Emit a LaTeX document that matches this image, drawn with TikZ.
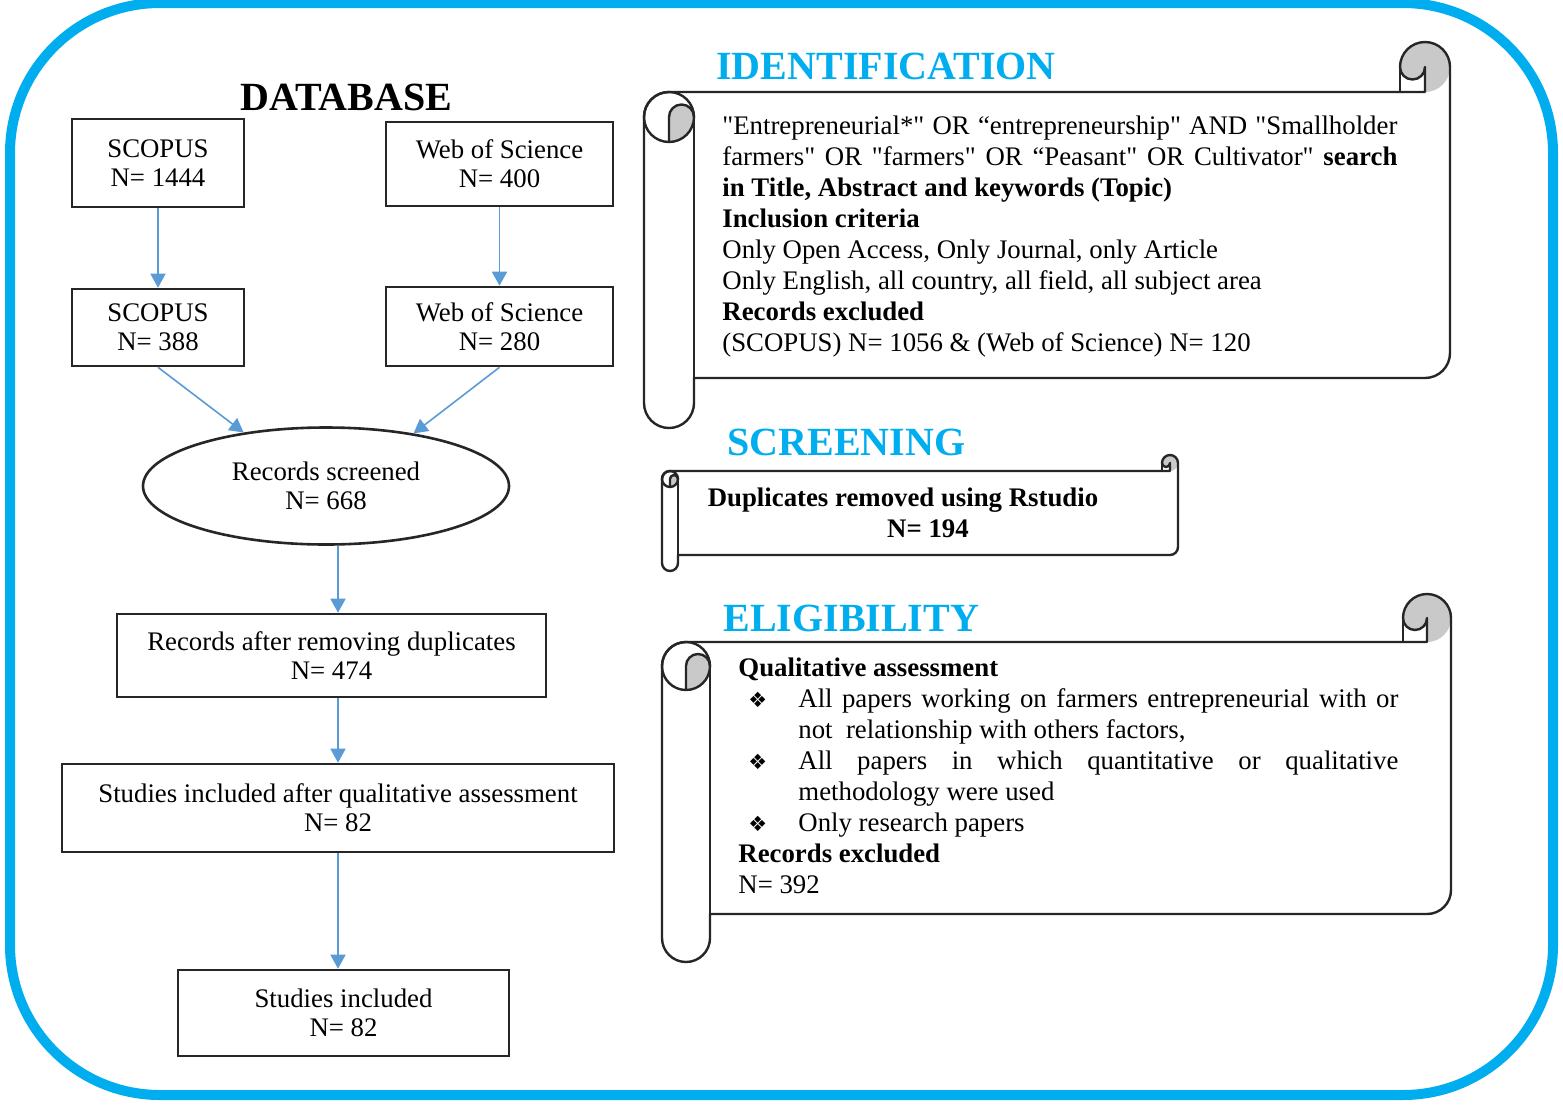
\documentclass[tikz,border=0pt]{standalone}
\usepackage{fontspec}
\setmainfont{Liberation Serif}[Ligatures=TeXOff]
\newfontfamily\symfont{DejaVu Sans}
\usetikzlibrary{arrows.meta,shapes.geometric,calc}
\definecolor{frameblue}{HTML}{00AEEF}
\definecolor{arrowblue}{HTML}{5B9BD5}
\definecolor{curlgray}{HTML}{C9C9C9}
\definecolor{boxline}{HTML}{262626}

\tikzset{
  scrollline/.style={draw=boxline, line width=1.2pt, line join=round},
  flowbox/.style={draw=boxline, line width=1.3pt, align=center, inner sep=0pt,
    font=\fontsize{13.4}{14.5}\selectfont},
  flowell/.style={flowbox, ellipse},
  arr/.style={draw=arrowblue, line width=0.8pt, -{Triangle[width=7.5pt,length=7pt]}},
  secttitle/.style={inner sep=0pt, font=\fontsize{20}{24}\selectfont\bfseries},
  bodytext/.style={inner sep=0pt, align=left, font=\fontsize{13.4}{15.5}\selectfont}
}

\newcommand\myscroll[5]{%
  \pgfmathsetmacro\sL{#1}%
  \pgfmathsetmacro\sT{#2}%
  \pgfmathsetmacro\sR{#3}%
  \pgfmathsetmacro\sB{#4}%
  \pgfmathsetmacro\sc{#5}%
  \pgfmathsetmacro\sh{\sc/2}%
  \pgfmathsetmacro\sq{\sc/4}%
  \pgfmathsetmacro\yA{\sT+\sh}%
  \pgfmathsetmacro\yB{\sT+\sc}%
  \pgfmathsetmacro\yC{\sT+1.5*\sc}%
  \pgfmathsetmacro\yD{\sT+2*\sc}%
  \pgfmathsetmacro\yE{\sB-\sc}%
  \pgfmathsetmacro\yF{\sB-\sh}%
  \pgfmathsetmacro\yG{\sB-1.5*\sc}%
  \pgfmathsetmacro\xA{\sL+\sh}%
  \pgfmathsetmacro\xB{\sL+\sc}%
  \pgfmathsetmacro\xC{\sR-\sh}%
  \pgfmathsetmacro\xD{\sR-\sc}%
  \fill[white] (\sL,\yC) arc[start angle=180,end angle=270,radius=\sh]
     -- (\xC,\yB) -- (\xC,\yA) arc[start angle=0,end angle=180,radius=\sq]
     arc[start angle=180,end angle=360,radius=\sh] -- (\sR,\yG)
     arc[start angle=0,end angle=90,radius=\sh] -- (\xB,\yE) -- (\xB,\yF)
     arc[start angle=0,end angle=180,radius=\sh] -- cycle;
  \fill[curlgray] (\xA,\yD) arc[start angle=90,end angle=0,radius=\sh]
     arc[start angle=0,end angle=-180,radius=\sq] -- cycle;
  \fill[curlgray] (\xC,\yB) arc[start angle=90,end angle=-180,radius=\sh]
     arc[start angle=180,end angle=0,radius=\sq] -- cycle;
  \draw[scrollline] (\sL,\yC) arc[start angle=180,end angle=270,radius=\sh]
     -- (\xC,\yB) -- (\xC,\yA) arc[start angle=0,end angle=180,radius=\sq]
     arc[start angle=180,end angle=360,radius=\sh] -- (\sR,\yG)
     arc[start angle=0,end angle=90,radius=\sh] -- (\xB,\yE) -- (\xB,\yF)
     arc[start angle=0,end angle=180,radius=\sh] -- cycle;
  \draw[scrollline] (\xA,\yC) circle[radius=\sh];
  \draw[scrollline] (\xB,\yC) arc[start angle=0,end angle=-180,radius=\sq] -- (\xA,\yD);
  \draw[scrollline] (\xB,\yC) -- (\xB,\yE);
  \draw[scrollline] (\xD,\yB) -- (\xD,\yA);
}
\newcommand\bul{\makebox[30pt][l]{\hspace*{5pt}{\symfont\fontsize{10.5}{10}\selectfont ❖}}}

\begin{document}
\begin{tikzpicture}[x=0.5pt,y=-0.5pt]
\useasboundingbox (0,0) rectangle (1563,1104);
\fill[white] (0,0) rectangle (1563,1104);
\draw[frameblue, line width=5pt, rounded corners=75pt] (10,3) rectangle (1553,1095);

% titles
\node[secttitle, anchor=west] (dbt) at (240,97) {DATABASE};

% left flow
\node[flowbox, minimum width=86pt, minimum height=44pt] (s1) at (158,163) {SCOPUS\\N= 1444};
\node[flowbox, minimum width=113.5pt, minimum height=42pt] (w1) at (499.5,164) {Web of Science\\N= 400};
\node[flowbox, minimum width=86pt, minimum height=38.5pt] (s2) at (158,327.5) {SCOPUS\\N= 388};
\node[flowbox, minimum width=113.5pt, minimum height=39.5pt] (w2) at (499.5,326.5) {Web of Science\\N= 280};
\node[flowell, minimum width=183pt, minimum height=58.5pt] (rs) at (326,486) {Records screened\\N= 668};
\node[flowbox, minimum width=214.5pt, minimum height=41.5pt] (rad) at (331.5,655.5) {Records after removing duplicates\\N= 474};
\node[flowbox, minimum width=276pt, minimum height=44pt] (sq) at (338,808) {Studies included after qualitative assessment\\N= 82};
\node[flowbox, minimum width=165.5pt, minimum height=43pt] (si) at (343.5,1013) {Studies included\\N= 82};

\draw[arr] (s1.south) -- (s2.north);
\draw[arr] (w1.south) -- (w2.north);
\draw[arr] (s2.south) -- (rs.147);
\draw[arr] (w2.south) -- (rs.31);
\draw[arr] (rs.south -| sq.north) -- (rad.north -| sq.north);
\draw[arr] (rad.south -| sq.north) -- (sq.north);
\draw[arr] (sq.south) -- (si.north -| sq.south);

% scrolls
\myscroll{644}{42}{1450}{428}{50}
\myscroll{662}{455}{1178}{571}{16}
\myscroll{662}{594}{1451}{962}{48}

\node[secttitle, text=frameblue, anchor=west] (idt) at (716,66) {IDENTIFICATION};
\node[secttitle, text=frameblue, anchor=west] (sct) at (727,442) {SCREENING};
\node[secttitle, text=frameblue, anchor=west] (elt) at (723,618) {ELIGIBILITY};

\node[bodytext, anchor=north west] (idtext) at (722,115) {%
\makebox[337.5pt][s]{"Entrepreneurial*" OR “entrepreneurship" AND "Smallholder}\\
\makebox[337.5pt][s]{farmers" OR "farmers" OR “Peasant" OR Cultivator" \textbf{search}}\\
\textbf{in Title, Abstract and keywords (Topic)}\\
\textbf{Inclusion criteria}\\
Only Open Access, Only Journal, only Article\\
Only English, all country, all field, all subject area\\
\textbf{Records excluded}\\
(SCOPUS) N= 1056 \& (Web of Science) N= 120};

\node[bodytext, align=center, font=\fontsize{13.4}{15.5}\selectfont\bfseries] (sctext) at (903,513)
  {Duplicates removed using Rstudio\\\hspace*{25pt}N= 194};

\node[bodytext, anchor=north west] (eltext) at (738,657) {%
\textbf{Qualitative assessment}\\
\bul\makebox[300pt][s]{All papers working on farmers entrepreneurial with or}\\
\hspace*{30pt}not\ \ relationship with others factors,\\
\bul\makebox[300pt][s]{All papers in which quantitative or qualitative}\\
\hspace*{30pt}methodology were used\\
\bul Only research papers\\
\textbf{Records excluded}\\
N= 392};
\end{tikzpicture}
\end{document}
